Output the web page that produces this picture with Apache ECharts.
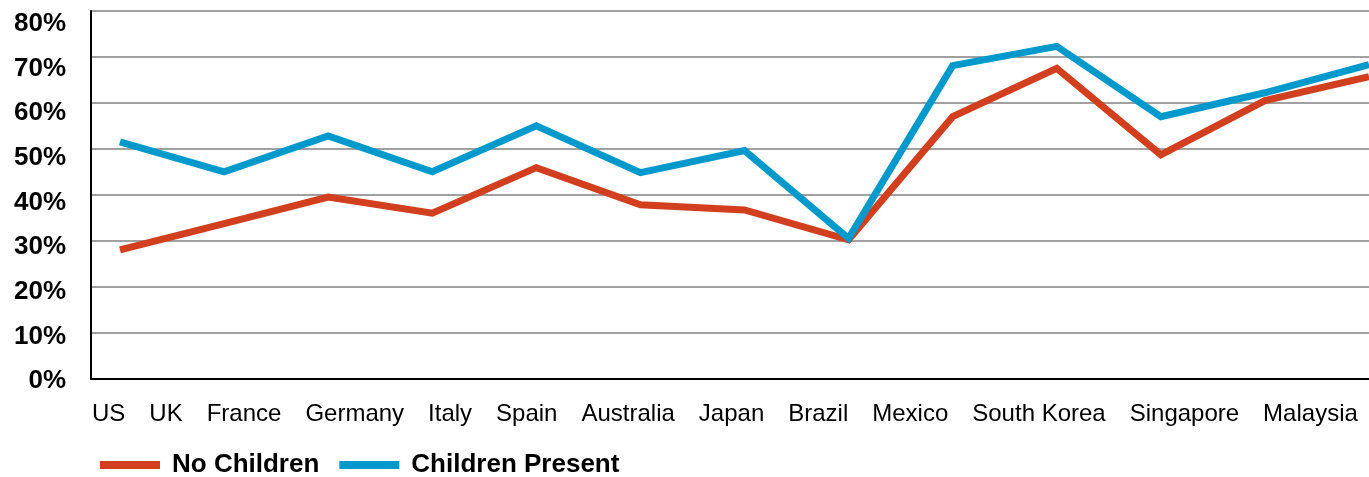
<!DOCTYPE html>
<html>
<head>
<meta charset="utf-8">
<script src="https://cdn.jsdelivr.net/npm/echarts@6/dist/echarts.min.js"></script>
<style>
  html, body { margin: 0; padding: 0; background: #fff; }
  #chart { width: 1369px; height: 477px; }
</style>
</head>
<body>
<div id="chart"></div>
<script>
// Share of households, by country
const categories = ['US', 'UK', 'France', 'Germany', 'Italy', 'Spain', 'Australia',
  'Japan', 'Brazil', 'Mexico', 'South Korea', 'Singapore', 'Malaysia'];
const noChildren = [0.28, 0.337, 0.395, 0.36, 0.459, 0.378, 0.367,
  0.302, 0.57, 0.675, 0.487, 0.605, 0.657];
const childrenPresent = [0.515, 0.45, 0.528, 0.45, 0.55, 0.448, 0.496,
  0.305, 0.681, 0.723, 0.57, 0.622, 0.683];
const yTickLabels = ['0%', '10%', '20%', '30%', '40%', '50%', '60%', '70%', '80%'];

const FONT = "'Liberation Sans', Arial, sans-serif";
const RED = '#D13F1F';
const BLUE = '#0099CC';

const chart = echarts.init(document.getElementById('chart'), null, { renderer: 'canvas' });

chart.setOption({
  animation: false,
  backgroundColor: '#ffffff',
  grid: [
    // frame: axis lines and gridlines
    { left: 91, right: 0, top: 11, bottom: 98.5 },
    // plotted lines
    { left: 120, right: 0, top: 11, bottom: 98.5 },
    // percentage labels
    { left: 91, right: 0, top: 24, bottom: 96 }
  ],
  xAxis: [
    {
      gridIndex: 0, type: 'category', data: categories, boundaryGap: false,
      axisLine: { show: true, lineStyle: { color: '#000', width: 2 } },
      axisTick: { show: false }, axisLabel: { show: false }, splitLine: { show: false }
    },
    {
      gridIndex: 1, type: 'category', data: categories, boundaryGap: false, show: false
    },
    {
      gridIndex: 2, type: 'category', data: categories, show: false
    }
  ],
  yAxis: [
    {
      gridIndex: 0, type: 'value', min: 0, max: 0.8, interval: 0.1,
      axisLine: { show: true, lineStyle: { color: '#000', width: 2 } },
      axisTick: { show: false }, axisLabel: { show: false },
      splitLine: { show: true, lineStyle: { color: '#808080', width: 1.6 } }
    },
    {
      gridIndex: 1, type: 'value', min: 0, max: 0.8, interval: 0.1, show: false
    },
    {
      gridIndex: 2, type: 'value', min: 0, max: 0.8, interval: 0.1,
      axisLine: { show: false }, axisTick: { show: false }, splitLine: { show: false },
      axisLabel: {
        show: true, margin: 25, color: '#000',
        fontFamily: FONT, fontSize: 26, fontWeight: 'bold',
        formatter: (v) => yTickLabels[Math.round(v * 10)]
      }
    }
  ],
  legend: {
    left: 95, top: 447,
    icon: 'rect', itemWidth: 60, itemHeight: 8, itemGap: 20,
    textStyle: { color: '#000', fontFamily: FONT, fontSize: 26, fontWeight: 'bold', padding: [0, 0, 0, 7] },
    data: ['No Children', 'Children Present']
  },
  graphic: [
    {
      type: 'text', x: 92, y: 414, silent: true,
      style: {
        text: categories.join('{g| }'),
        rich: { g: { width: 24 } },
        font: '24px ' + FONT, fill: '#000',
        align: 'left', verticalAlign: 'middle'
      }
    }
  ],
  series: [
    {
      name: 'No Children', type: 'line', xAxisIndex: 1, yAxisIndex: 1,
      data: noChildren, showSymbol: false, symbol: 'none',
      itemStyle: { color: RED },
      lineStyle: { color: RED, width: 7, join: 'miter' }
    },
    {
      name: 'Children Present', type: 'line', xAxisIndex: 1, yAxisIndex: 1,
      data: childrenPresent, showSymbol: false, symbol: 'none',
      itemStyle: { color: BLUE },
      lineStyle: { color: BLUE, width: 7, join: 'miter' }
    }
  ]
});
</script>
</body>
</html>
